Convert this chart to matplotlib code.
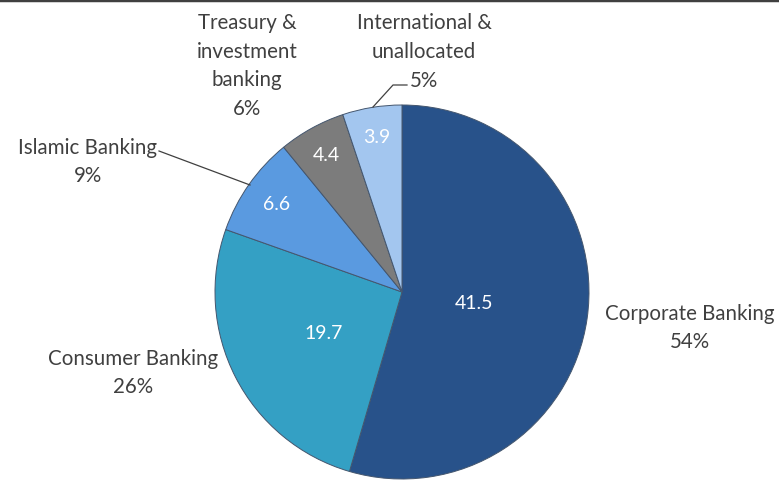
import numpy as np
import matplotlib
matplotlib.use("Agg")
import matplotlib.pyplot as plt
from matplotlib.lines import Line2D

# segment values and their printed shares
segments = ["Corporate Banking", "Consumer Banking", "Islamic Banking",
            "Treasury &\ninvestment\nbanking", "International &\nunallocated"]
values = [41.5, 19.7, 6.6, 4.4, 3.9]
shares = [54, 26, 9, 6, 5]
colors = ["#28528a", "#34a0c4", "#5a9ae0", "#7c7c7c", "#a3c6ef"]

plt.rcParams['font.family'] = ['Lato', 'DejaVu Sans']

W, H = 779, 485
fig = plt.figure(figsize=(W / 100, H / 100), dpi=100)
ax = fig.add_axes([0, 0, 1, 1])

cx, cy, R = 402, H - 293, 187
wedges, _ = ax.pie(values, colors=colors, startangle=90, counterclock=False,
                   center=(cx, cy), radius=R, frame=True,
                   wedgeprops=dict(edgecolor="#44566e", linewidth=0.7))
ax.set_xlim(0, W)
ax.set_ylim(0, H)
ax.set_aspect("equal")
ax.axis("off")

# value labels inside the slices
inner_frac = [0.39, 0.47, 0.82, 0.84, 0.84]
for w, v, f in zip(wedges, values, inner_frac):
    a = np.deg2rad((w.theta1 + w.theta2) / 2)
    ax.text(cx + f * R * np.cos(a), cy + f * R * np.sin(a), "%.1f" % v,
            color="white", fontsize=14, ha="center", va="center")

# category labels outside with percentages
outer_pos = [(690, H - 328), (133, H - 373), (88, H - 162),
             (247, H - 66), (424, H - 52)]
for name, p, (x, y) in zip(segments, shares, outer_pos):
    ax.text(x, y, "%s\n%d%%" % (name, p), color="#404040", fontsize=14.8,
            ha="center", va="center", linespacing=1.55)

# leader lines
ax.plot([159, 250], [H - 152, H - 186], color="#404040", lw=0.9)
ax.plot([373, 393, 407], [H - 108, H - 86, H - 86], color="#404040", lw=0.9)

fig.add_artist(Line2D([0, 1], [0.998, 0.998], color="#404040", lw=2.5,
                      transform=fig.transFigure))

fig.savefig("out.png", dpi=100, facecolor="white")
